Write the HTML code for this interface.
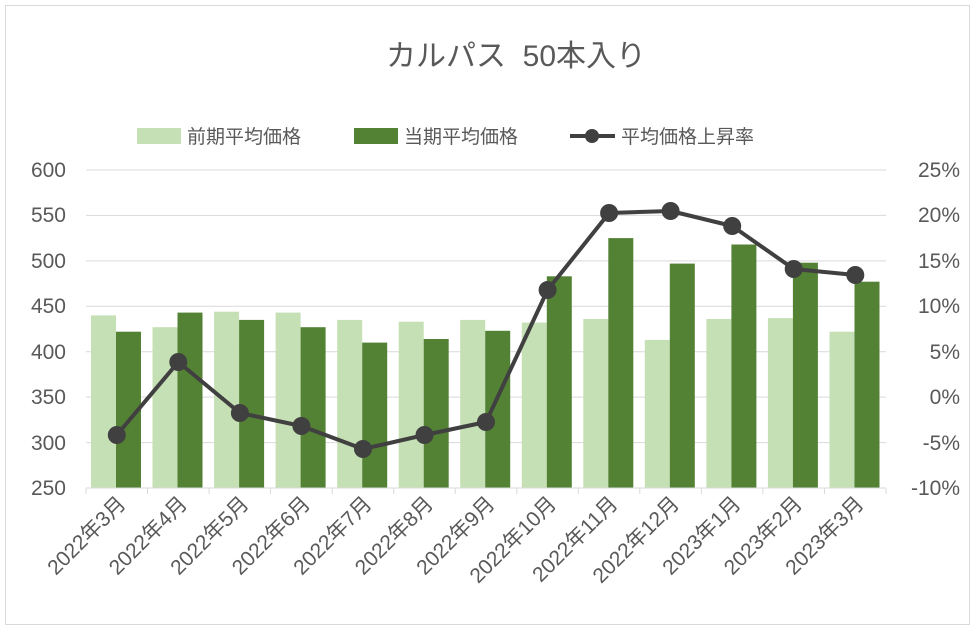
<!DOCTYPE html>
<html><head><meta charset="utf-8"><style>
body{margin:0;background:#fff;}
svg{display:block;font-family:"Liberation Sans","Noto Sans CJK JP",sans-serif;}
</style></head><body>
<svg width="976" height="630" viewBox="0 0 976 630">
<rect x="0" y="0" width="976" height="630" fill="#fff"/>
<rect x="5.5" y="5.5" width="964" height="619" fill="none" stroke="#d9d9d9"/>
<text x="516" y="66" text-anchor="middle" font-size="30" fill="#595959" xml:space="preserve">カルパス&#160;&#160;50本入り</text>
<g font-size="19" fill="#595959">
<rect x="137" y="128" width="44" height="16" fill="#c5e0b4"/><text x="187" y="143">前期平均価格</text>
<rect x="354" y="128" width="44" height="16" fill="#548235"/><text x="404" y="143">当期平均価格</text>
<line x1="570" y1="136" x2="615" y2="136" stroke="#404040" stroke-width="4"/><circle cx="592" cy="136" r="7" fill="#404040"/><text x="621" y="143">平均価格上昇率</text>
</g>
<g stroke="#d9d9d9" stroke-width="1">
<line x1="86" y1="170" x2="886" y2="170"/><line x1="86" y1="215.4" x2="886" y2="215.4"/><line x1="86" y1="260.9" x2="886" y2="260.9"/><line x1="86" y1="306.3" x2="886" y2="306.3"/><line x1="86" y1="351.7" x2="886" y2="351.7"/><line x1="86" y1="397.1" x2="886" y2="397.1"/><line x1="86" y1="442.6" x2="886" y2="442.6"/><line x1="86" y1="488" x2="886" y2="488"/>
</g>
<g font-size="21" fill="#595959" text-anchor="end">
<text x="66" y="177">600</text><text x="66" y="222">550</text><text x="66" y="268">500</text><text x="66" y="313">450</text><text x="66" y="359">400</text><text x="66" y="404">350</text><text x="66" y="450">300</text><text x="66" y="495">250</text>
</g>
<g font-size="21" fill="#595959" text-anchor="end">
<text x="960" y="177">25%</text><text x="960" y="222">20%</text><text x="960" y="268">15%</text><text x="960" y="313">10%</text><text x="960" y="359">5%</text><text x="960" y="404">0%</text><text x="960" y="450">-5%</text><text x="960" y="495">-10%</text>
</g>
<g fill="#c5e0b4">
<rect x="91" y="315.4" width="25" height="172.6"/>
<rect x="152.5" y="327.2" width="25" height="160.8"/>
<rect x="214.1" y="311.7" width="25" height="176.3"/>
<rect x="275.6" y="312.6" width="25" height="175.4"/>
<rect x="337.2" y="319.9" width="25" height="168.1"/>
<rect x="398.7" y="321.7" width="25" height="166.3"/>
<rect x="460.2" y="319.9" width="25" height="168.1"/>
<rect x="521.8" y="322.6" width="25" height="165.4"/>
<rect x="583.3" y="319" width="25" height="169"/>
<rect x="644.8" y="339.9" width="25" height="148.1"/>
<rect x="706.4" y="319" width="25" height="169"/>
<rect x="767.9" y="318.1" width="25" height="169.9"/>
<rect x="829.5" y="331.7" width="25" height="156.3"/>
</g>
<g fill="#548235">
<rect x="116" y="331.7" width="25" height="156.3"/>
<rect x="177.5" y="312.6" width="25" height="175.4"/>
<rect x="239.1" y="319.9" width="25" height="168.1"/>
<rect x="300.6" y="327.2" width="25" height="160.8"/>
<rect x="362.2" y="342.6" width="25" height="145.4"/>
<rect x="423.7" y="339" width="25" height="149"/>
<rect x="485.2" y="330.8" width="25" height="157.2"/>
<rect x="546.8" y="276.3" width="25" height="211.7"/>
<rect x="608.3" y="238.1" width="25" height="249.9"/>
<rect x="669.8" y="263.6" width="25" height="224.4"/>
<rect x="731.4" y="244.5" width="25" height="243.5"/>
<rect x="792.9" y="262.7" width="25" height="225.3"/>
<rect x="854.5" y="281.7" width="25" height="206.3"/>
</g>
<g stroke="#d9d9d9"><line x1="86" y1="488" x2="886" y2="488"/>
<line x1="86" y1="488" x2="86" y2="494"/><line x1="147.5" y1="488" x2="147.5" y2="494"/><line x1="209.1" y1="488" x2="209.1" y2="494"/><line x1="270.6" y1="488" x2="270.6" y2="494"/><line x1="332.2" y1="488" x2="332.2" y2="494"/><line x1="393.7" y1="488" x2="393.7" y2="494"/><line x1="455.2" y1="488" x2="455.2" y2="494"/><line x1="516.8" y1="488" x2="516.8" y2="494"/><line x1="578.3" y1="488" x2="578.3" y2="494"/><line x1="639.8" y1="488" x2="639.8" y2="494"/><line x1="701.4" y1="488" x2="701.4" y2="494"/><line x1="762.9" y1="488" x2="762.9" y2="494"/><line x1="824.5" y1="488" x2="824.5" y2="494"/><line x1="886" y1="488" x2="886" y2="494"/></g>
<polyline fill="none" stroke="#404040" stroke-width="4" stroke-linejoin="round" points="116.8,435 178.3,362 239.9,413 301.4,426 363,449 424.5,435 486,422 547.6,290 609.1,213 670.6,211 732.2,226 793.7,269 855.3,275"/>
<g fill="#404040">
<circle cx="116.8" cy="435" r="9"/><circle cx="178.3" cy="362" r="9"/><circle cx="239.9" cy="413" r="9"/><circle cx="301.4" cy="426" r="9"/><circle cx="363" cy="449" r="9"/><circle cx="424.5" cy="435" r="9"/><circle cx="486" cy="422" r="9"/><circle cx="547.6" cy="290" r="9"/><circle cx="609.1" cy="213" r="9"/><circle cx="670.6" cy="211" r="9"/><circle cx="732.2" cy="226" r="9"/><circle cx="793.7" cy="269" r="9"/><circle cx="855.3" cy="275" r="9"/>
</g>
<g font-size="21" fill="#595959" text-anchor="end">
<text transform="translate(127,505) rotate(-45)">2022年3月</text>
<text transform="translate(188.5,505) rotate(-45)">2022年4月</text>
<text transform="translate(250,505) rotate(-45)">2022年5月</text>
<text transform="translate(311.5,505) rotate(-45)">2022年6月</text>
<text transform="translate(373,505) rotate(-45)">2022年7月</text>
<text transform="translate(434.5,505) rotate(-45)">2022年8月</text>
<text transform="translate(496,505) rotate(-45)">2022年9月</text>
<text transform="translate(557.5,505) rotate(-45)">2022年10月</text>
<text transform="translate(619,505) rotate(-45)">2022年11月</text>
<text transform="translate(680.5,505) rotate(-45)">2022年12月</text>
<text transform="translate(742,505) rotate(-45)">2023年1月</text>
<text transform="translate(803.5,505) rotate(-45)">2023年2月</text>
<text transform="translate(865,505) rotate(-45)">2023年3月</text>
</g>
</svg>
</body></html>
